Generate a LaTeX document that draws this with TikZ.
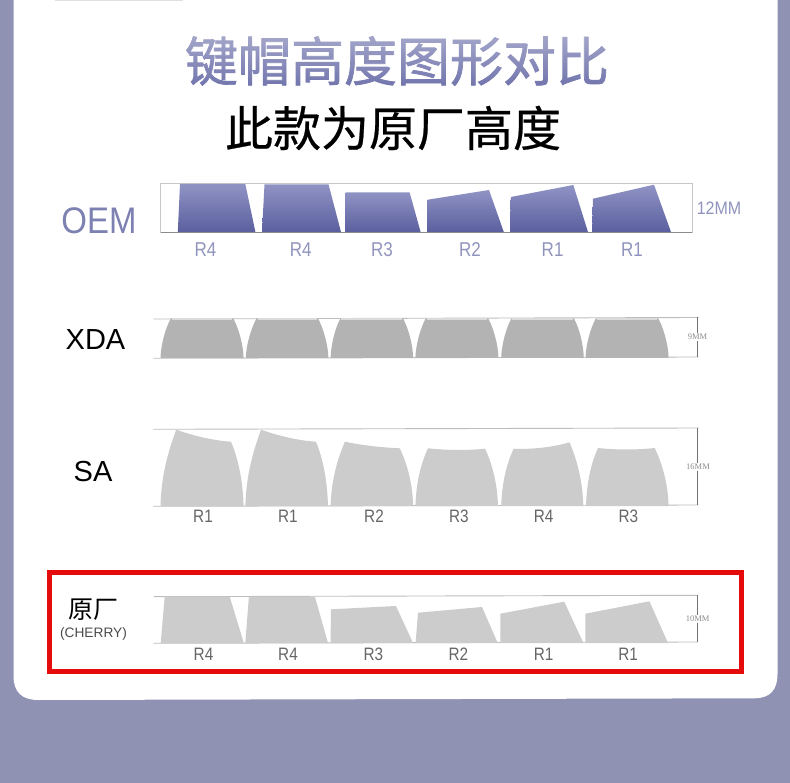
\documentclass[tikz,border=0pt]{standalone}
\usepackage{fontspec}
\usetikzlibrary{fadings}
\setmainfont{Liberation Sans}
\newfontfamily\cjk{Noto Sans CJK SC}
\newfontfamily\cjktitle[FakeBold=1.3]{Noto Sans CJK SC}
\newfontfamily\cjksub[FakeBold=0.5]{Noto Sans CJK SC}
\newfontfamily\narrow[FakeStretch=0.85]{Liberation Sans}
\newfontfamily\oemfont[FakeStretch=0.89]{Liberation Sans}
\newfontfamily\mmfont{Liberation Serif}
\definecolor{bgc}{HTML}{8F92B3}
\definecolor{oemtop}{HTML}{8F93C4}
\definecolor{oembot}{HTML}{5B5F9E}
\definecolor{oemtxt}{HTML}{7D81B2}
\definecolor{rowtxt}{HTML}{9094BC}
\definecolor{titlec}{HTML}{666AA6}
\definecolor{xdac}{HTML}{B3B3B3}
\definecolor{sac}{HTML}{CCCCCC}
\definecolor{linec}{HTML}{BDBDBD}
\definecolor{redc}{HTML}{E60B0B}
\tikzfading[name=titlefade, top color=transparent!52, bottom color=transparent!100]
\tikzset{
  txt/.style={inner sep=0pt, anchor=center},
  oemkey/.style={top color=oemtop, bottom color=oembot, draw=none},
  xdakey/.style={fill=xdac, draw=none},
  xdatop/.style={fill=black!14, draw=none},
  sakey/.style={fill=sac, draw=none},
  rule/.style={draw=linec, line width=0.9pt},
  dimline/.style={draw=black!55, line width=0.6pt},
  rowlab/.style={txt, font=\narrow\fontsize{18}{18}\selectfont, text=black!60},
  oemlab/.style={txt, font=\narrow\fontsize{20}{20}\selectfont, text=rowtxt},
  mmlab/.style={txt, font=\mmfont\fontsize{8.5}{8.5}\selectfont, text=black!45, fill=white, inner ysep=1pt},
}
\begin{document}
\begin{tikzpicture}[x=1pt,y=-1pt]
\useasboundingbox (0,0) rectangle (790,783);
\fill[bgc] (0,0) rectangle (790,783);
% white card
\fill[white] (13.5,-30) -- (777.5,-30) -- (777.5,674) .. controls (777.5,690) and (770,698) .. (755,698.3) -- (38,700) .. controls (22,700) and (13.5,692) .. (13.5,676) -- cycle;
\fill[black!12] (55,0) rectangle (183,1);
% titles
\node[txt, text=titlec, font=\cjktitle\fontsize{53}{53}\selectfont] (title) at (397,61) {键帽高度图形对比};
\fill[white, path fading=titlefade] (180,24) rectangle (615,98);
\node[txt, font=\cjksub\fontsize{48}{48}\selectfont] (subtitle) at (393,128) {此款为原厂高度};
% OEM row
\draw[draw=black!22, line width=0.8pt] (160.7,183) rectangle (692,232);
\draw[draw=black!45, line width=0.8pt] (160.7,232) -- (692,232);
\foreach \a/\b/\c/\d/\e/\f in {
 177.8/180/184/245.3/184/255.4,
 262/264.5/184.3/328.5/184.3/341,
 345.6/345.6/192.3/409.6/192.3/420.6,
 427.7/427.7/199.7/489/190/503.8,
 510/510.8/197/573.3/185/588,
 592/593/198.7/654/184.7/671}
 \path[oemkey] (\a,232) -- (\b,\c) -- (\d,\e) -- (\f,232) -- cycle;
\node[txt, text=oemtxt, font=\oemfont\fontsize{37}{37}\selectfont] (oem) at (99,221) {OEM};
\node[txt, text=rowtxt, font=\oemfont\fontsize{18}{18}\selectfont] (oemh) at (719,208) {12MM};
\foreach \x/\t in {205.5/R4, 300.8/R4, 382/R3, 470/R2, 552.6/R1, 632/R1}
 \node[oemlab] at (\x,250) {\t};
% XDA row
\draw[rule] (153.4,319) -- (698.5,317.5);
\draw[rule] (153.4,358.3) -- (698.5,357);
\foreach \a/\b/\c/\d in {
 160.5/170.8/233.3/243.6,
 245.8/256.5/318/328.4,
 330.6/340.4/403/413.2,
 415.4/425.7/488.2/498.5,
 501.2/511.4/574/583.8,
 585.5/595.8/658.3/668.6}
 {\path[xdakey] (\a,358) .. controls (\a+0.3,345) and (\b-5.3,328) .. (\b,318.5) -- (\c,318.5) .. controls (\c+5.3,328) and (\d-0.3,345) .. (\d,358) -- cycle;
  \path[xdatop] (\b+1,318.5) rectangle (\c-1,320.5);}
\draw[dimline] (697.6,317.3) -- (697.6,357);
\node[mmlab] (xdah) at (697.6,337) {9MM};
\node[txt, font=\fontsize{29}{29}\selectfont] (xda) at (95.5,339.7) {XDA};
% SA row
\draw[rule] (153.4,429.3) -- (698.5,428);
\draw[rule] (153.4,506.3) -- (698.5,505);
\foreach \a/\b/\c/\d/\e/\f/\m/\n in {
 160.5/176.2/429.7/231/441.7/243.6/436/440.5,
 245.4/261/429.7/315.9/441.7/328/436/440.5,
 330.6/344.9/441.7/399.8/448.3/413.2/445.5/447.5,
 415.4/428/448.3/485/448.7/498/450.3/450.5,
 501.2/513.7/448.7/569.5/442.3/583.3/449.5/447.5,
 586/598/448/654.7/448/668.6/450/450}
 \path[sakey] (\a,506) .. controls (\a+0.8,{\c+(506-\c)*0.55}) and (\b-6,{\c+(506-\c)*0.22}) .. (\b,\c)
   .. controls (\b+18,\m) and (\d-18,\n) .. (\d,\e)
   .. controls (\d+6,{\e+(506-\e)*0.22}) and (\f-0.8,{\e+(506-\e)*0.55}) .. (\f,506) -- cycle;
\draw[dimline] (697.6,427.7) -- (697.6,504.7);
\node[mmlab] (sah) at (698,466.7) {16MM};
\node[txt, font=\fontsize{29}{29}\selectfont] (sa) at (93,471.5) {SA};
\foreach \x/\t in {203/R1, 287.8/R1, 374/R2, 458.8/R3, 543.6/R4, 628.4/R3}
 \node[rowlab] at (\x,516.7) {\t};
% Cherry row
\draw[rule] (153.6,596.7) -- (697.7,595.3);
\draw[rule] (153.6,643.3) -- (697.7,642);
\foreach \a/\b/\c/\d/\e/\f in {
 160.7/164.7/596.7/229.7/596.7/243.8,
 245.3/248.9/596.7/314.9/596.7/328,
 330.5/331/609.3/396/606/413,
 415.6/418/612.7/482/607/497.7,
 500.3/500.3/613.7/564.2/601.7/583.4,
 585.4/585.4/613.7/649.4/601.3/668}
 \path[sakey] (\a,643) -- (\b,\c) -- (\d,\e) -- (\f,643) -- cycle;
\draw[dimline] (697.7,595) -- (697.7,642);
\node[mmlab] (cherryh) at (697.7,618.7) {10MM};
\node[txt, font=\cjk\fontsize{25}{25}\selectfont] (yuan) at (93,610) {原厂};
\node[txt, text=black!70, font=\fontsize{13.7}{13.7}\selectfont] (cherry) at (93.5,633.5) {(CHERRY)};
\foreach \x/\t in {203.5/R4, 288/R4, 373.3/R3, 458.4/R2, 543.6/R1, 628.2/R1}
 \node[rowlab] at (\x,654) {\t};
% red frame
\draw[redc, line width=5pt] (49.5,572.5) rectangle (741.5,671.5);
\end{tikzpicture}
\end{document}
